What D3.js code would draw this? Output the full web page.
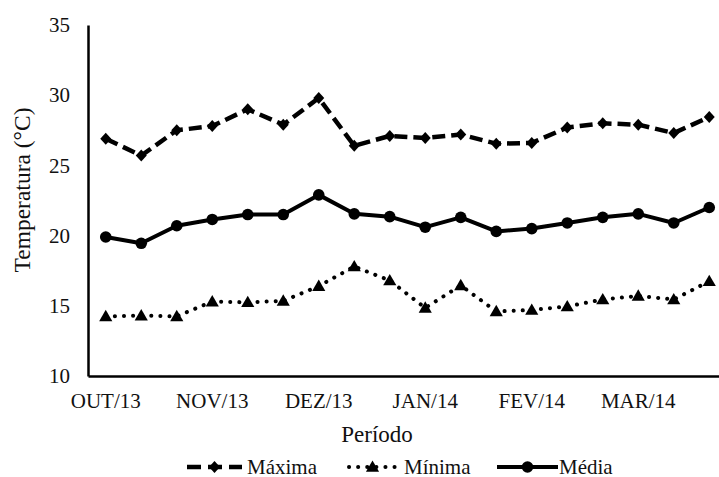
<!DOCTYPE html>
<html>
<head>
<meta charset="utf-8">
<script src="https://cdn.jsdelivr.net/npm/d3@7"></script>
<style>
  html, body { margin: 0; padding: 0; background: #fff; }
  svg { display: block; }
</style>
</head>
<body>
<svg id="chart" width="719" height="477"></svg>
<script>
// Ten-day periods, three per month, Oct/2013 to Mar/2014
const periods = [
  "OUT/13 1", "OUT/13 2", "OUT/13 3",
  "NOV/13 1", "NOV/13 2", "NOV/13 3",
  "DEZ/13 1", "DEZ/13 2", "DEZ/13 3",
  "JAN/14 1", "JAN/14 2", "JAN/14 3",
  "FEV/14 1", "FEV/14 2", "FEV/14 3",
  "MAR/14 1", "MAR/14 2", "MAR/14 3"
];
const monthLabels = ["OUT/13", "NOV/13", "DEZ/13", "JAN/14", "FEV/14", "MAR/14"];

// Temperatures (°C)
const maxima = [26.9, 25.7, 27.5, 27.8, 29.0, 27.9, 29.8, 26.4, 27.1, 26.95, 27.2, 26.55, 26.6, 27.7, 28.0, 27.9, 27.3, 28.45];
const minima = [14.25, 14.3, 14.25, 15.3, 15.25, 15.35, 16.4, 17.8, 16.8, 14.85, 16.45, 14.6, 14.7, 14.95, 15.45, 15.7, 15.45, 16.75];
const media  = [19.9, 19.45, 20.7, 21.15, 21.5, 21.5, 22.9, 21.55, 21.35, 20.6, 21.3, 20.3, 20.5, 20.9, 21.3, 21.55, 20.9, 22.0];

const yTicks = [10, 15, 20, 25, 30, 35];

const FONT = "Liberation Serif";
const INK = "#111";
const svg = d3.select("#chart");
const plotLeft = 88, plotBottom = 376, plotTop = 25;
const step = 35.5;

const x = d3.scaleBand().domain(periods).range([plotLeft, plotLeft + step * periods.length]).padding(0);
const cx = d => x(d) + x.bandwidth() / 2;
const y = d3.scaleLinear().domain([10, 35]).range([plotBottom, plotTop]);

// Y axis
const yAxis = svg.append("g")
  .attr("transform", `translate(${plotLeft},0)`)
  .call(d3.axisLeft(y).tickValues(yTicks).tickSize(0).tickPadding(18));
yAxis.select(".domain").attr("stroke", "#000").attr("stroke-width", 2.5);
yAxis.attr("font-family", FONT).attr("font-size", 21);
yAxis.selectAll("text").attr("fill", INK);

// X axis: month label on the first period of each month
const firstOfMonth = new Map(monthLabels.map(m => [periods.find(p => p.startsWith(m)), m]));
const xAxis = svg.append("g")
  .attr("transform", `translate(0,${plotBottom})`)
  .call(d3.axisBottom(x).tickSize(0).tickPadding(17)
    .tickValues(periods.filter(p => firstOfMonth.has(p)))
    .tickFormat(p => firstOfMonth.get(p)));
xAxis.select(".domain").attr("stroke", "#000").attr("stroke-width", 2.5);
xAxis.attr("font-family", FONT).attr("font-size", 21);
xAxis.selectAll("text").attr("fill", INK);

// Axis titles
svg.append("text")
  .attr("transform", "translate(30,190) rotate(-90)")
  .attr("text-anchor", "middle")
  .attr("font-family", FONT).attr("font-size", 23.5).attr("fill", INK)
  .text("Temperatura (°C)");
svg.append("text")
  .attr("x", 377).attr("y", 442)
  .attr("text-anchor", "middle")
  .attr("font-family", FONT).attr("font-size", 23).attr("fill", INK)
  .text("Período");

const diamond = "M0,-6L5.5,0L0,6L-5.5,0Z";
const triangle = d3.symbol().type(d3.symbolTriangle).size(75)();
const series = [
  { name: "Máxima", values: maxima, dash: "13,6", width: 4.5, cap: "butt", marker: "diamond" },
  { name: "Mínima", values: minima, dash: "0.1,9", width: 4, cap: "round", marker: "triangle" },
  { name: "Média",  values: media,  dash: null,   width: 4, cap: "butt", marker: "circle" }
];

const line = d3.line().x((d, i) => cx(periods[i])).y(d => y(d));

function drawMarker(g, type, px, py) {
  if (type === "circle") {
    g.append("circle").attr("cx", px).attr("cy", py).attr("r", 5.8).attr("fill", "#000");
  } else if (type === "diamond") {
    g.append("path").attr("d", diamond).attr("transform", `translate(${px},${py})`).attr("fill", "#000");
  } else {
    g.append("path").attr("d", triangle).attr("transform", `translate(${px},${py + 1})`).attr("fill", "#000");
  }
}

series.forEach(s => {
  const g = svg.append("g");
  g.append("path")
    .datum(s.values)
    .attr("d", line)
    .attr("fill", "none")
    .attr("stroke", "#000")
    .attr("stroke-width", s.width)
    .attr("stroke-linecap", s.cap)
    .attr("stroke-linejoin", "round")
    .attr("stroke-dasharray", s.dash);
  s.values.forEach((v, i) => drawMarker(g, s.marker, cx(periods[i]), y(v)));
});

// Legend
const legendY = 467;
const legendItems = [
  { s: series[0], x0: 187, x1: 242, tx: 247, dash: "14,7" },
  { s: series[1], x0: 349, x1: 396, tx: 404, dash: "0.1,9" },
  { s: series[2], x0: 497, x1: 558, tx: 559, dash: null }
];
legendItems.forEach(it => {
  const g = svg.append("g");
  g.append("line")
    .attr("x1", it.x0).attr("x2", it.x1).attr("y1", legendY).attr("y2", legendY)
    .attr("stroke", "#000")
    .attr("stroke-width", it.s.width)
    .attr("stroke-linecap", it.s.cap)
    .attr("stroke-dasharray", it.dash);
  drawMarker(g, it.s.marker, (it.x0 + it.x1) / 2, legendY);
  g.append("text")
    .attr("x", it.tx).attr("y", legendY + 6.5)
    .attr("font-family", FONT).attr("font-size", 21).attr("fill", INK)
    .text(it.s.name);
});
</script>
</body>
</html>
